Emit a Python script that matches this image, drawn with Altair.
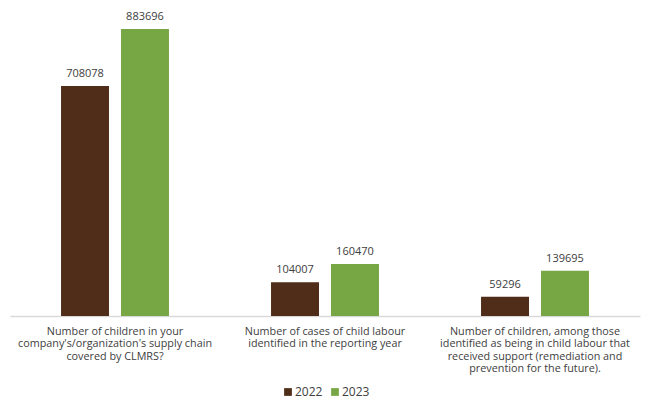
import altair as alt
import pandas as pd

categories = [
    "Number of children in your\ncompany's/organization's supply chain\ncovered by CLMRS?",
    "Number of cases of child labour\nidentified in the reporting year",
    "Number of children, among those\nidentified  as being in child labour that\nreceived support (remediation  and\nprevention for the future).",
]
years = ["2022", "2023"]
values_2022 = [708078, 104007, 59296]
values_2023 = [883696, 160470, 139695]

rows = []
for i, c in enumerate(categories):
    rows.append({"category": c, "year": "2022", "value": values_2022[i]})
    rows.append({"category": c, "year": "2023", "value": values_2023[i]})
df = pd.DataFrame(rows)

FONT = "Open Sans"
TXT = "#404040"

x = alt.X("category:N", sort=categories, title=None,
          scale=alt.Scale(paddingInner=0.486, paddingOuter=0.243),
          axis=alt.Axis(labelExpr="split(datum.value, '\\n')", labelAngle=0,
                        labelFontSize=10.8, labelFont=FONT, labelColor=TXT,
                        labelLineHeight=12.5, labelPadding=9, labelLimit=400,
                        ticks=False, domainColor="#d9d9d9", domainWidth=1.5,
                        grid=False))
xo = alt.XOffset("year:N", sort=years,
                 scale=alt.Scale(paddingInner=0.2, paddingOuter=0))
y = alt.Y("value:Q", scale=alt.Scale(domain=[0, 973000]), axis=None)

color = alt.Color("year:N", sort=years,
                  scale=alt.Scale(domain=years, range=["#4f2d18", "#77a744"]),
                  legend=alt.Legend(title=None, orient="none", legendX=272, legendY=386,
                                    direction="horizontal", symbolType="square",
                                    symbolSize=60, symbolStrokeWidth=0,
                                    labelFontSize=12, labelFont=FONT, labelColor=TXT,
                                    columnPadding=6, symbolOffset=0, labelOffset=1))

base = alt.Chart(df)
bars = base.mark_bar().encode(x=x, xOffset=xo, y=y, color=color)
labels = base.mark_text(baseline="bottom", dy=-7, fontSize=11, font=FONT, color=TXT).encode(
    x=x, xOffset=xo, y=y, text=alt.Text("value:Q", format="d"))

chart = (bars + labels).properties(
    width=630, height=316,
    background="white",
    autosize=alt.AutoSizeParams(type="none"),
    padding={"left": 10, "top": 0, "right": 5, "bottom": 83},
).configure_view(stroke=None)

chart.save("out.html", embed_options={"renderer": "svg", "actions": False})
